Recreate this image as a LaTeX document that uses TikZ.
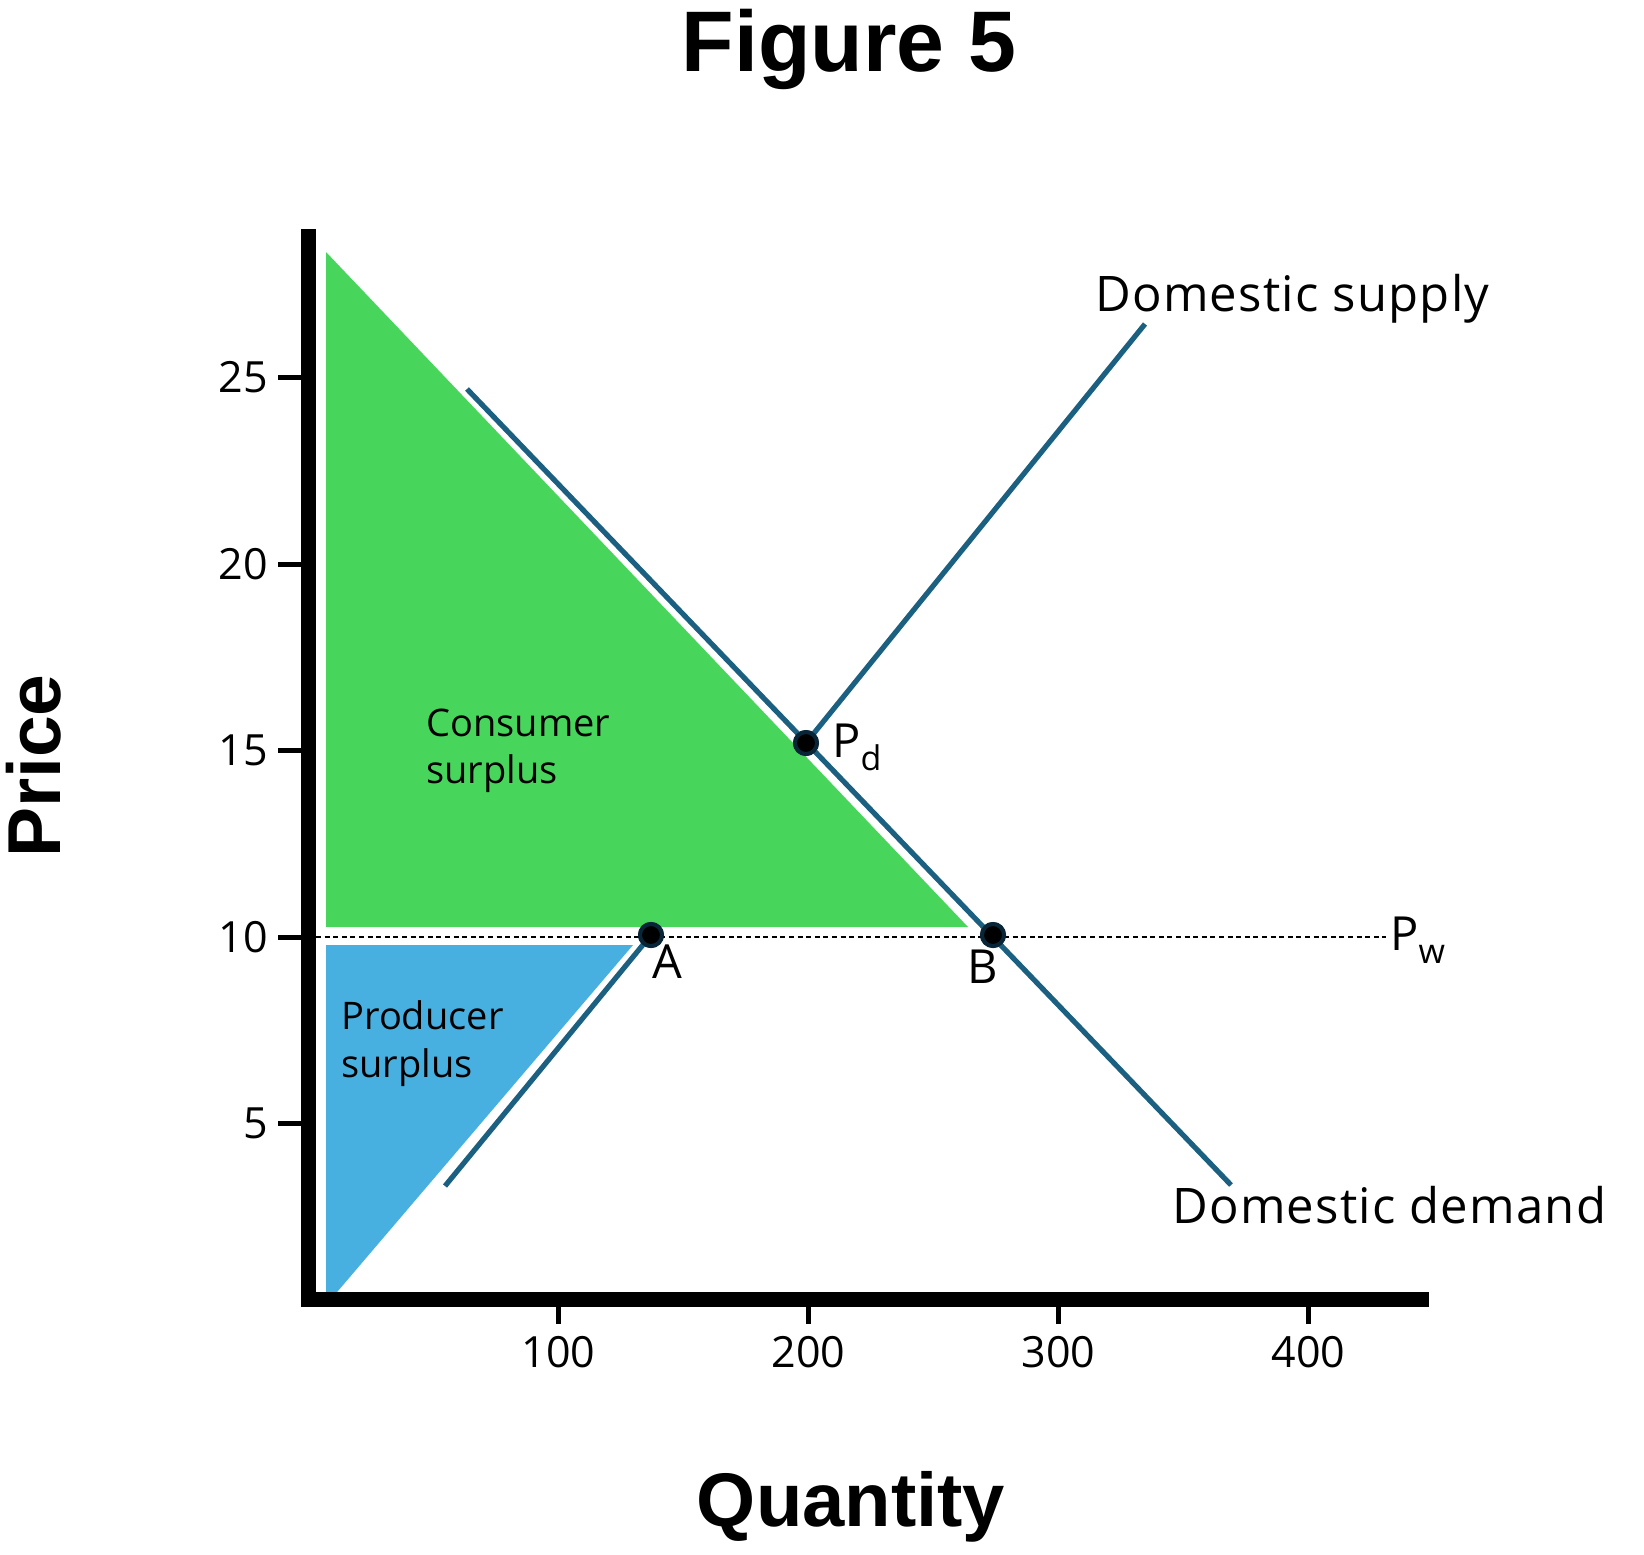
\documentclass[tikz,border=0pt]{standalone}
\usepackage{fontspec}
\setmainfont{Open Sans}
\newfontfamily\widefont{Open Sans}[LetterSpace=2.5]
\newfontfamily\heavyfont{Liberation Sans}
\definecolor{cgreen}{RGB}{72,213,92}
\definecolor{cblue}{RGB}{72,176,224}
\definecolor{curvecol}{RGB}{27,96,128}
\definecolor{dotedge}{RGB}{8,38,56}
\begin{document}
\begin{tikzpicture}[x=0.5pt,y=-0.5pt,
  axisline/.style={line width=7.5pt, black},
  tickline/.style={line width=2.5pt, black},
  curveline/.style={line width=2.6pt, curvecol},
  pwline/.style={line width=1pt, black, dash pattern=on 2.5pt off 1.8pt},
  dotmark/.style={circle, fill=black, draw=dotedge, line width=2pt, minimum size=11pt, inner sep=0pt},
  ticklab/.style={inner sep=0pt, font=\fontsize{21.5}{26}\selectfont},
  arealab/.style={inner sep=0pt, anchor=base west, font=\fontsize{19}{23}\selectfont},
  curvelab/.style={inner sep=0pt, anchor=base west, font=\widefont\fontsize{24.5}{29}\selectfont},
  ptlab/.style={inner sep=0pt, anchor=base west, font=\fontsize{23.5}{28}\selectfont},
  bigbold/.style={inner sep=0pt, anchor=base, font=\heavyfont\bfseries\fontsize{38}{45}\selectfont}
]
\useasboundingbox (0,0) rectangle (1644,1554);

% surplus areas
\fill[cgreen] (326,252) -- (326,927) -- (968,927) -- cycle;
\fill[cblue] (326,945) -- (633,945) -- (326,1305) -- cycle;

% points
\node[dotmark] (A) at (651,935) {};
\node[dotmark] (B) at (993,935) {};
\node[dotmark] (Pd) at (806,743) {};

% label of world price and its line
\node[ptlab] (pwlab) at (1390,950) {P\raisebox{-6.5pt}{\fontsize{17}{20}\selectfont w}};
\coordinate (pwstart) at (316,937);
\coordinate (pwend) at (1386,937);
\draw[pwline] (pwstart) -- (pwend);

% curves
\coordinate (dtop) at (467,389);
\coordinate (dbot) at (1231,1185);
\coordinate (sbot) at (445,1186);
\coordinate (stop) at (1145,324);
\draw[curveline] (dtop) -- (dbot);
\draw[curveline] (sbot) -- (A.center);
\draw[curveline] (Pd.center) -- (stop);

% dots on top of the curves
\node[dotmark] at (A.center) {};
\node[dotmark] at (B.center) {};
\node[dotmark] at (Pd.center) {};

% axes
\coordinate (ytop) at (308.5,229);
\coordinate (ybot) at (308.5,1307);
\coordinate (xleft) at (301,1299.5);
\coordinate (xright) at (1429,1299.5);
\draw[axisline] (ytop) -- (ybot);
\draw[axisline] (xleft) -- (xright);

% y ticks
\foreach \v/\yy in {25/377,20/564,15/750,10/937,5/1123}{
  \draw[tickline] (278,\yy) -- (301,\yy);
  \node[ticklab, anchor=east] (yt\v) at (268,\yy) {\v};
}
% x ticks
\foreach \v/\xx in {100/558.5,200/808.5,300/1058.5,400/1308.5}{
  \draw[tickline] (\xx,1307) -- (\xx,1324);
  \node[ticklab, anchor=base] (xt\v) at (\xx,1367) {\v};
}

% area labels
\node[arealab] (cs1) at (426,736) {Consumer};
\node[arealab] (cs2) at (426,783) {surplus};
\node[arealab] (ps1) at (341,1029) {Producer};
\node[arealab] (ps2) at (341,1077) {surplus};

% curve labels
\node[curvelab] (supplylab) at (1095,311) {Domestic supply};
\node[curvelab] (demandlab) at (1172,1223) {Domestic demand};

% point labels
\node[ptlab] (alab) at (652,978) {A};
\node[ptlab] (blab) at (967,983) {B};
\node[ptlab] (pdlab) at (832,757) {P\raisebox{-6.5pt}{\fontsize{17}{20}\selectfont d}};

% titles
\node[bigbold, font=\heavyfont\bfseries\fontsize{43}{50}\selectfont] (title) at (849,71) {Figure 5};
\node[bigbold] (xlab) at (851,1526) {Quantity};
\node[bigbold, rotate=90, font=\heavyfont\bfseries\fontsize{37.5}{44}\selectfont] (ylab) at (60,766) {Price};
\end{tikzpicture}
\end{document}
